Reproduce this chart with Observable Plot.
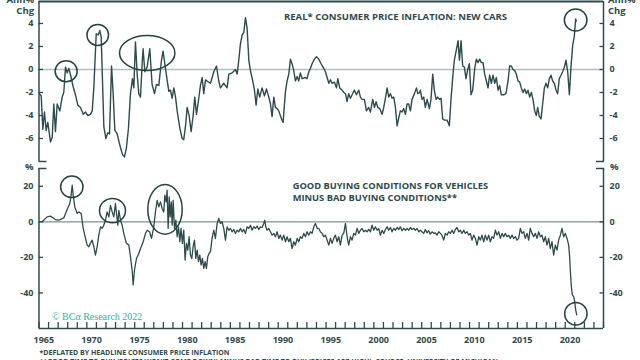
<!DOCTYPE html>
<html><head><meta charset="utf-8">
<script src="https://cdn.jsdelivr.net/npm/d3@7"></script>
<script src="https://cdn.jsdelivr.net/npm/@observablehq/plot@0.6"></script>
<style>
html,body{margin:0;padding:0;background:#fff;}
#wrap{position:relative;width:640px;height:360px;overflow:hidden;font-family:"Open Sans",sans-serif;color:#2f4b4c;}
.t{position:absolute;white-space:nowrap;font-weight:700;line-height:1;}
.panel{position:absolute;left:0;}
</style></head><body><div id="wrap"></div>
<script>
// ---------- data ----------
const carDates = [1965.05,1965.23,1965.40,1965.57,1965.75,1965.92,1966.20,1966.38,1966.55,1966.72,1966.90,1967.18,1967.42,1967.59,1967.77,1967.94,1968.12,1968.36,1968.57,1968.81,1969.06,1969.34,1969.62,1969.86,1970.10,1970.38,1970.56,1970.73,1970.98,1971.19,1971.36,1971.50,1971.78,1971.99,1972.19,1972.37,1972.58,1972.75,1972.93,1973.17,1973.34,1973.52,1973.73,1973.93,1974.14,1974.35,1974.56,1974.77,1974.91,1975.08,1975.26,1975.43,1975.61,1975.78,1975.88,1976.06,1976.30,1976.58,1976.82,1977.07,1977.28,1977.52,1977.80,1977.97,1978.15,1978.39,1978.57,1978.74,1978.92,1979.09,1979.27,1979.44,1979.72,1979.96,1980.13,1980.34,1980.48,1980.69,1980.90,1981.11,1981.28,1981.46,1981.70,1981.87,1982.05,1982.22,1982.40,1982.57,
1982.92,1983.27,1983.55,1983.79,1983.96,1984.31,1984.66,1984.84,1985.18,1985.53,1985.71,1985.88,1986.05,1986.23,1986.40,1986.58,1986.75,1986.93,1987.10,1987.34,1987.52,1987.69,1987.87,1988.07,1988.32,1988.56,1988.77,1989.02,1989.19,1989.36,1989.54,1989.71,1989.89,1990.06,1990.30,1990.51,1990.76,1990.93,1991.11,1991.28,1991.45,1991.63,1991.80,1991.98,1992.15,1992.32,1992.50,1992.85,1993.02,1993.20,1993.37,1993.54,1993.79,1994.00,1994.24,1994.48,1994.69,1994.94,1995.11,1995.29,1995.46,1995.63,1995.88,1996.09,1996.23,1996.43,1996.68,1996.85,1997.03,1997.20,1997.37,1997.55,1997.72,1997.97,1998.18,1998.42,1998.59,1998.77,1999.01,1999.22,1999.46,1999.64,1999.88,2000.06,2000.23,2000.41,2000.61,2000.86,2001.03,2001.21,2001.38,2001.55,2001.73,2001.90,2002.08,2002.25,2002.43,2002.60,2002.77,2002.95,2003.12,2003.30,2003.47,2003.64,2003.82,2003.99,2004.24,2004.45,2004.59,2004.79,
2004.86,2005.03,2005.21,2005.38,2005.56,2005.80,2005.97,2006.15,2006.32,2006.50,2006.67,2006.85,2007.02,2007.19,2007.37,2007.65,2007.89,2008.06,2008.24,2008.41,2008.62,2008.80,2008.94,2009.11,2009.28,2009.46,2009.63,2009.81,2009.98,2010.15,2010.33,2010.54,2010.71,2010.89,2011.06,2011.23,2011.41,2011.58,2011.76,2011.93,2012.10,2012.28,2012.45,2012.63,2012.80,2012.98,2013.15,2013.32,2013.57,2013.81,2014.02,2014.19,2014.37,2014.54,2014.72,2014.89,2015.07,2015.24,2015.41,2015.59,2015.76,2015.94,2016.11,2016.28,2016.46,2016.63,2016.81,2016.98,2017.12,2017.29,2017.47,2017.64,2017.82,2017.99,2018.17,2018.34,2018.51,2018.69,2018.86,2019.04,2019.21,2019.38,2019.56,2019.73,2019.91,2020.08,2020.26,2020.43,2020.60,2020.78,2020.95,2021.09,2021.16];
const carInflation = [-2.1,-2.3,-5.2,-3.7,-5.3,-4.6,-6.3,-5.9,-3.0,-5.4,-3.0,-3.6,-2.4,-2.0,0.2,-0.3,0.1,-0.7,-1.5,-2.2,-3.1,-3.3,-3.9,-3.7,-4.0,-3.9,-3.6,-1.6,3.1,3.0,3.4,2.8,-5.0,-6.0,-5.5,-5.6,0.3,-2.1,-5.3,-5.6,-6.2,-6.8,-7.4,-7.6,-6.8,-5.1,-2.1,-0.8,-1.6,2.4,-0.4,-2.1,-2.4,0.5,1.8,-0.2,0.2,1.8,-1.3,-2.1,-1.3,-1.4,0.8,1.6,0.5,-0.9,-1.9,-1.8,-2.5,-1.6,-2.4,-3.6,-5.1,-6.0,-6.1,-4.7,-3.3,-4.0,-5.4,-4.0,-2.4,-3.9,-2.5,-1.4,-0.7,-2.1,-0.9,-1.0,
-1.2,-0.2,0.3,-1.0,-1.6,-1.2,-1.6,-0.4,-0.3,0.0,-0.4,0.8,2.2,3.0,3.2,4.5,3.6,0.8,-0.1,-1.0,-1.8,-3.1,-1.7,-2.4,-1.6,-2.3,-1.7,-2.4,-3.0,-4.1,-2.4,-3.3,-3.4,-3.6,-4.2,-4.6,-1.9,-1.0,-0.4,0.9,0.5,-0.1,-1.0,-0.6,-1.0,-0.3,-0.8,-0.7,-0.8,-0.2,0.1,0.5,0.9,1.1,0.9,0.5,0.2,-0.2,-0.7,-1.2,-0.9,-1.2,-1.1,-1.6,-0.8,-1.6,-1.8,-2.0,-2.1,-2.8,-2.1,-2.5,-2.2,-1.8,-2.2,-1.8,-2.4,-2.6,-2.6,-3.6,-3.3,-3.7,-2.6,-3.3,-2.8,-3.3,-3.4,-3.9,-3.3,-2.5,-1.6,-2.4,-2.1,-2.5,-2.4,-3.3,-4.9,-4.2,-3.6,-3.7,-3.4,-3.9,-3.0,-3.0,-3.6,-2.6,-2.1,-1.6,-2.1,-2.0,
-1.8,-2.6,-2.4,-3.3,-2.6,-3.4,-2.6,-0.4,-1.8,-2.6,-2.4,-2.6,-2.5,-4.3,-4.4,-4.4,-4.9,-2.6,-0.7,0.8,1.7,2.5,0.8,2.5,0.3,0.2,-0.8,0.0,0.5,-2.2,-1.8,0.1,0.9,0.6,0.9,0.6,0.6,-0.4,-1.0,-1.6,-0.5,-1.2,-0.5,-1.2,-0.7,-1.8,-1.4,-2.2,-2.2,-2.1,-1.0,0.3,0.3,0.0,-0.1,-0.4,-1.0,-1.1,-1.6,-2.0,-1.7,-2.1,-1.8,-2.4,-2.0,-2.6,-3.6,-4.0,-3.3,-4.1,-4.3,-3.0,-1.6,-1.2,-1.6,-0.8,-0.5,-1.0,-1.2,-1.8,-2.1,-0.8,-0.5,-0.2,0.2,0.8,-0.2,-2.2,0.2,2.1,2.9,4.4,4.2];

const buyDates = [1965.33,1965.85,1966.20,1966.72,1967.07,1967.59,1967.94,1968.22,1968.36,1968.47,1968.57,1968.74,1968.99,1969.16,1969.41,1969.62,1969.86,1970.03,1970.21,1970.38,1970.56,1970.73,1970.90,1971.08,1971.25,1971.43,1971.60,1971.77,1971.95,1972.12,1972.30,1972.47,1972.65,1972.82,1972.99,1973.10,1973.24,1973.34,1973.52,1973.69,1973.86,1974.14,1974.39,1974.56,1974.73,1974.84,1974.98,1975.19,1975.43,1975.61,1975.89,1976.13,1976.31,1976.55,1976.76,1977.00,1977.17,1977.35,1977.52,1977.69,1977.87,1978.04,1978.15,1978.29,1978.39,1978.50,1978.61,1978.71,1978.82,1978.92,1979.02,1979.16,1979.30,1979.44,1979.58,1979.72,1979.85,1979.99,1980.13,1980.27,1980.41,1980.55,1980.69,1980.83,1980.97,1981.11,1981.25,1981.39,1981.53,1981.67,1981.81,1981.94,1982.08,1982.22,1982.36,1982.50,1982.64,1982.78,
1982.92,1983.09,1983.27,1983.44,1983.62,1983.79,1983.96,1984.14,1984.31,1984.49,1984.66,1984.84,1985.01,1985.18,1985.36,1985.53,1985.71,1985.88,1986.05,1986.23,1986.40,1986.58,1986.75,1986.93,1987.10,1987.27,1987.45,1987.62,1987.80,1987.97,1988.14,1988.32,1988.49,1988.60,1988.70,1988.84,1989.02,1989.19,1989.36,1989.54,1989.71,1989.89,1990.06,1990.23,1990.41,1990.58,1990.76,1990.93,1991.11,1991.28,1991.45,1991.63,1991.80,1991.98,1992.15,1992.32,1992.50,1992.67,1992.85,1993.02,1993.20,1993.37,1993.54,1993.72,1993.89,1994.07,1994.24,1994.41,1994.59,1994.76,1994.94,1995.11,1995.29,1995.46,1995.63,1995.81,1995.98,1996.16,1996.33,1996.50,1996.68,1996.85,1997.03,1997.20,1997.37,1997.55,1997.72,1997.90,1998.07,1998.25,1998.42,1998.59,1998.77,1998.94,1999.12,1999.29,1999.46,1999.64,1999.81,1999.99,2000.16,2000.34,2000.51,2000.68,2000.86,2001.03,2001.21,2001.38,2001.55,2001.73,2001.90,2002.08,2002.25,2002.43,2002.60,2002.77,2002.95,2003.12,2003.30,2003.47,2003.64,2003.82,2003.99,2004.17,2004.34,2004.52,2004.69,
2004.86,2005.21,2005.38,2005.56,2005.73,2005.90,2006.08,2006.25,2006.43,2006.60,2006.78,2006.95,2007.12,2007.30,2007.47,2007.65,2007.82,2007.99,2008.17,2008.34,2008.52,2008.69,2008.87,2009.04,2009.21,2009.39,2009.56,2009.74,2009.91,2010.08,2010.26,2010.43,2010.61,2010.78,2010.96,2011.13,2011.30,2011.48,2011.65,2011.83,2012.00,2012.17,2012.35,2012.52,2012.70,2012.87,2013.05,2013.22,2013.39,2013.57,2013.74,2013.92,2014.09,2014.26,2014.44,2014.61,2014.79,2014.96,2015.13,2015.31,2015.48,2015.66,2015.83,2016.01,2016.18,2016.35,2016.53,2016.70,2016.88,2017.05,2017.22,2017.40,2017.57,2017.75,2017.92,2018.10,2018.27,2018.44,2018.62,2018.79,2018.97,2019.14,2019.31,2019.49,2019.66,2019.84,2020.01,2020.19,2020.36,2020.46,2020.53,2020.64,2020.74,2020.88,2020.99,2021.09,2021.20];
const buyConditions = [0,2.8,3.2,1.3,0.9,2.2,6.9,10.3,15,20.6,15,8.4,4.7,5.6,4.7,-3.7,-9.3,-13.1,-14.0,-12.1,-10.3,-14.0,-18.7,-14.0,-7.5,-2.8,-3.7,-1.9,0.9,5.6,2.8,9.3,5.6,2.8,10.3,4.7,-1.9,6.5,0.9,-1.9,-6.5,-12.1,-13.1,-19.6,-27.1,-35.5,-27.1,-20.6,-17.8,-15.0,-11.2,-6.5,-4.7,-5.6,-9.3,-2.8,5.6,12.1,8.4,11.2,7.5,5.6,15,11.2,17.8,-3.7,14,2.8,11.2,-1.9,12.1,-3.7,0.9,-8.4,-2.8,-11.2,-3.7,-12.1,-4.7,-21.5,-12.1,-15.9,-8.4,-18.7,-20.6,-14,-10.3,-20.6,-15.9,-22.4,-18.7,-24.3,-20.6,-26.2,-22.4,-26.2,-19.6,-17.8,
-16.8,-9.3,-4.7,-9.3,-0.9,1.9,-0.9,0,-3.7,-10.3,-2.8,-4.7,-3.7,-5.6,-4.3,-6.5,-4.7,-5.6,-3.7,-5.6,-4.3,-6.5,-2.8,-3.7,-1.9,-4.7,-2.8,-3.7,-2.4,-4.3,-2.8,-3.2,-0.9,0.9,-2.8,-4.7,-3.7,-5.6,-7.5,-6.5,-8.4,-5.6,-9.3,-7.5,-10.3,-7.5,-11.2,-8.4,-11.2,-9.3,-15,-11.2,-13.1,-9.3,-11.2,-8.4,-9.3,-6.5,-8.4,-5.6,-7.5,-5.6,-6.5,-2.8,-0.9,-3.7,-3.7,-5.6,-6.5,-8.4,-7.5,-10.3,-13.1,-9.3,-12.1,-9.3,-7.5,-11.2,-8.4,-13.1,-7.5,-6.5,-0.9,-8.4,-13.1,-8.4,-10.3,-6.5,-7.5,-3.7,-6.5,-4.7,-3.7,-5.6,-4.7,-5.6,-4.3,-5.6,-1.9,-4.7,-2.8,-4.7,-3.7,-7.5,-4.7,-6.5,-4.3,-2.8,-4.7,-3.2,-5.6,-3.7,-4.7,-3.2,-4.3,-2.8,-5.0,-3.7,-4.7,-3.7,-4.7,-3.2,-4.3,-3.7,-4.7,-3.7,-5.6,
-4.7,-6.5,-4.3,-6.2,-5.0,-6.9,-5.6,-6.5,-6.2,-7.5,-5.6,-6.5,-7.5,-10.3,-6.5,-7.5,-5.6,-6.5,-4.7,-6.5,-4.3,-3.2,-5.6,-4.7,-6.5,-4.7,-6.5,-5.6,-7.5,-6.5,-10.3,-7.5,-9.3,-13.1,-8.4,-10.3,-7.5,-11.2,-7.5,-10.3,-7.5,-11.2,-8.4,-9.3,-4.7,-7.5,-5.6,-9.3,-6.5,-8.4,-6.5,-8.4,-7.5,-9.3,-7.5,-9.3,-8.4,-10.3,-9.3,-3.7,-6.5,-5.6,-9.3,-6.5,-10.3,-3.7,-6.5,-8.4,-6.5,-9.3,-5.6,-8.4,-7.5,-11.2,-8.4,-13.1,-9.3,-15.0,-11.2,-18.7,-13.1,-15.9,-10.3,-7.5,-3.7,-8.4,-6.5,-9.3,-13.1,-19.6,-27.1,-36.4,-41.1,-42.1,-44.9,-49.5,-52.3];

const yearTicks = d3.range(1965, 2025);
const yearLabels = [1965,1970,1975,1980,1985,1990,1995,2000,2005,2010,2015,2020];
const carTicks = [-6,-4,-2,0,2,4];
const buyTicks = [-40,-20,0,20];
const carDomain = [-8, 5.91];
const buyDomain = [-60, 30];
const xDomain = [1965, 2024];

// highlighted episodes (centre of each ring)
const carRingDates = [1967.84, 1971.14, 1976.31, 2021.09];
const carRingValues = [-0.15, 3.0, 1.43, 4.3];
const buyRingDates = [1968.43, 1972.68, 1978.17, 2021.11];
const buyRingValues = [19.7, 6.3, 7.0, -51.7];

// ---------- styling ----------
const ink = "#2f4b4c";
const lineInk = "#2d4b4b";
const fontStyle = {overflow: "visible", background: "transparent", fontFamily: "'Open Sans', sans-serif", fontSize: "9px", fontWeight: 700, color: ink};

function ring(rx, ry) {
  const k = 0.5523;
  return {draw(ctx) {
    ctx.moveTo(rx, 0);
    ctx.bezierCurveTo(rx, ry * k, rx * k, ry, 0, ry);
    ctx.bezierCurveTo(-rx * k, ry, -rx, ry * k, -rx, 0);
    ctx.bezierCurveTo(-rx, -ry * k, -rx * k, -ry, 0, -ry);
    ctx.bezierCurveTo(rx * k, -ry, rx, -ry * k, rx, 0);
    ctx.closePath();
  }};
}
function ringMark(dates, values, i, rx, ry) {
  return Plot.dot([i], {x: j => dates[j], y: j => values[j], r: 5, symbol: ring(rx, ry), fill: "none", stroke: "#244443", strokeWidth: 1.5});
}

const cars = carDates.map((d, i) => ({date: d, value: carInflation[i]}));
const buys = buyDates.map((d, i) => ({date: d, value: buyConditions[i]}));
const fmt = d => String(d);
const blank = () => "";

const topPlot = Plot.plot({
  width: 640, height: 163,
  marginLeft: 38.5, marginRight: 37, marginTop: 1, marginBottom: 2,
  x: {domain: xDomain, axis: null},
  y: {domain: carDomain, axis: null},
  style: fontStyle,
  marks: [
    Plot.ruleY([0], {stroke: "#b3bebe", strokeWidth: 1.5}),
    Plot.ruleY([carDomain[1]], {stroke: ink, strokeWidth: 2}),
    Plot.ruleX(xDomain, {stroke: ink, strokeWidth: 1.5}),
    Plot.axisY(carTicks, {anchor: "left", label: null, tickSize: -4.5, tickPadding: 10, tickFormat: fmt, strokeWidth: 1.3}),
    Plot.axisY(carTicks, {anchor: "right", label: null, tickSize: -4.5, tickPadding: 10.5, tickFormat: fmt, strokeWidth: 1.3}),
    Plot.axisY([carDomain[0]], {anchor: "left", label: null, tickSize: -8, tickFormat: blank, strokeWidth: 1.5}),
    Plot.axisY([carDomain[0]], {anchor: "right", label: null, tickSize: -8, tickFormat: blank, strokeWidth: 1.5}),
    Plot.line(cars, {x: "date", y: "value", stroke: lineInk, strokeWidth: 1.4}),
    ringMark(carRingDates, carRingValues, 0, 11, 10.5),
    ringMark(carRingDates, carRingValues, 1, 10.8, 10.5),
    ringMark(carRingDates, carRingValues, 2, 27.7, 17.5),
    ringMark(carRingDates, carRingValues, 3, 11.3, 11)
  ]
});

const bottomPlot = Plot.plot({
  width: 640, height: 190,
  marginLeft: 38.5, marginRight: 37, marginTop: 8, marginBottom: 22,
  x: {domain: xDomain, axis: null},
  y: {domain: buyDomain, axis: null},
  style: fontStyle,
  marks: [
    Plot.ruleY([0], {stroke: "#7f9191", strokeWidth: 1.2}),
    Plot.ruleY([buyDomain[0]], {stroke: ink, strokeWidth: 1.5}),
    Plot.ruleX(xDomain, {stroke: ink, strokeWidth: 1.5}),
    Plot.axisY(buyTicks, {anchor: "left", label: null, tickSize: -4.5, tickPadding: 10, tickFormat: fmt, strokeWidth: 1.3}),
    Plot.axisY(buyTicks, {anchor: "right", label: null, tickSize: -4.5, tickPadding: 10.5, tickFormat: fmt, strokeWidth: 1.3}),
    Plot.axisY([buyDomain[1]], {anchor: "left", label: null, tickSize: -8, tickFormat: blank, strokeWidth: 1.5}),
    Plot.axisY([buyDomain[1]], {anchor: "right", label: null, tickSize: -8, tickFormat: blank, strokeWidth: 1.5}),
    Plot.axisX(yearTicks, {anchor: "bottom", label: null, tickSize: -6, tickFormat: blank, strokeWidth: 1.3}),
    Plot.text(yearLabels, {x: d => d + 0.5, text: fmt, frameAnchor: "bottom", lineAnchor: "top", dy: 8.5, fontSize: 9, fontWeight: 700, fill: ink}),
    Plot.line(buys, {x: "date", y: "value", stroke: lineInk, strokeWidth: 1.3}),
    ringMark(buyRingDates, buyRingValues, 0, 11.2, 10.8),
    ringMark(buyRingDates, buyRingValues, 1, 13, 12.2),
    ringMark(buyRingDates, buyRingValues, 2, 17.2, 24.8),
    ringMark(buyRingDates, buyRingValues, 3, 11.2, 11.2)
  ]
});

const wrap = document.getElementById("wrap");
function panel(node, top) {
  const d = document.createElement("div");
  d.className = "panel"; d.style.top = top + "px";
  d.appendChild(node); wrap.appendChild(d);
}
panel(topPlot, 0);
panel(bottomPlot, 160);

// text placed by baseline (Open Sans: baseline ≈ top + 0.888em at line-height 1)
function label(txt, x, baseline, size, extra = {}) {
  const d = document.createElement("div");
  d.className = "t";
  d.textContent = txt;
  d.style.fontSize = size + "px";
  const k = extra.serif ? 0.8375 : 0.888;
  d.style.top = (baseline - k * size) + "px";
  if (extra.right != null) d.style.right = (640 - extra.right) + "px"; else d.style.left = x + "px";
  Object.assign(d.style, extra.css || {});
  wrap.appendChild(d);
}
label("REAL* CONSUMER PRICE INFLATION: NEW CARS", 284, 20.7, 9.5);
label("GOOD BUYING CONDITIONS FOR VEHICLES", 292.7, 189.2, 9.3);
label("MINUS BAD BUYING CONDITIONS**", 292.7, 200.8, 9.3);
label("Ann%", 0, 3, 9.5, {right: 34});
label("Chg", 0, 14.5, 9.5, {right: 34});
label("Ann%", 608, 3, 9.5);
label("Chg", 608, 14.5, 9.5);
label("%", 0, 170, 9.5, {right: 33.5});
label("%", 610, 170, 9.5);
label("© BCα Research 2022", 52, 320, 10, {serif: true, css: {fontFamily: "'Liberation Serif', serif", fontWeight: 400, color: "#2fb598"}});
label("*DEFLATED BY HEADLINE CONSUMER PRICE INFLATION", 39.5, 355.5, 7);
label("**GOOD TIME TO BUY (PRICES WON'T COME DOWN) MINUS BAD TIME TO BUY (PRICES ARE HIGH); SOURCE: UNIVERSITY OF MICHIGAN.", 39.5, 364, 7);
</script>
</body></html>
